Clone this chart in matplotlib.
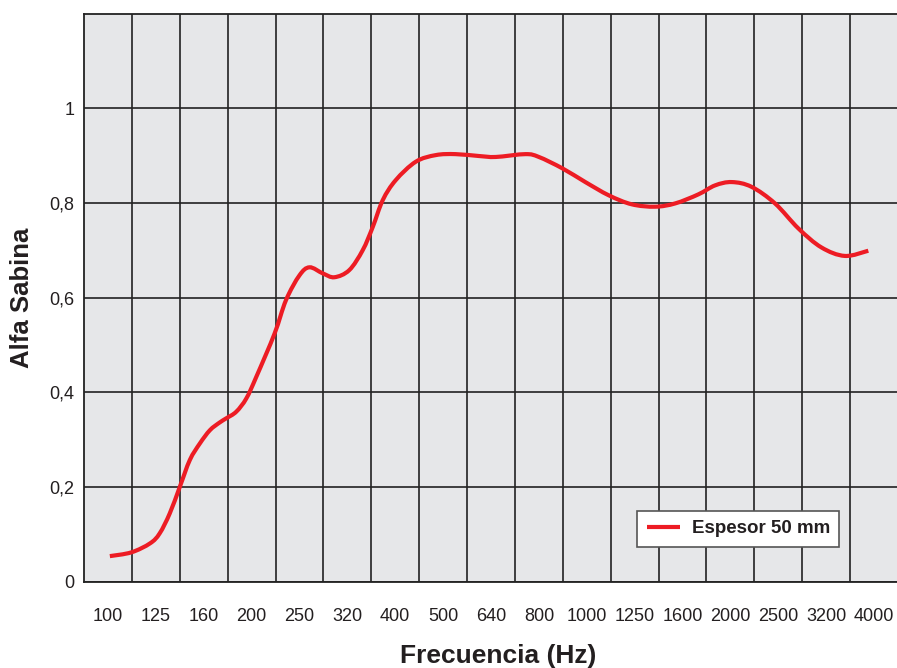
import matplotlib
matplotlib.use('Agg')
import matplotlib.pyplot as plt
import numpy as np
from matplotlib import font_manager
from matplotlib.path import Path
from matplotlib.patches import PathPatch
from matplotlib.lines import Line2D

# frequency bands (categorical axis)
freqs = ['100', '125', '160', '200', '250', '320', '400', '500', '640', '800',
         '1000', '1250', '1600', '2000', '2500', '3200', '4000']

# curve: position along the band axis (0 = 100 Hz)
pos = [0.04, 0.49, 0.88, 1.08, 1.29, 1.50, 1.71, 1.92, 2.13, 2.33, 2.47, 2.68,
       2.89, 3.10, 3.48, 3.72, 4.00, 4.21, 4.49, 4.73, 5.04, 5.32, 5.53, 5.74,
       6.01, 6.43, 6.85, 7.26, 7.75, 8.10, 8.72, 9.00, 9.49, 9.97, 10.46, 10.94,
       11.43, 11.85, 12.33, 12.68, 13.03, 13.44, 13.93, 14.42, 14.90, 15.39, 15.88]
alpha = [0.054, 0.062, 0.081, 0.102, 0.144, 0.200, 0.257, 0.292, 0.320, 0.336,
         0.345, 0.359, 0.387, 0.433, 0.524, 0.595, 0.647, 0.664, 0.651, 0.643,
         0.658, 0.700, 0.749, 0.806, 0.848, 0.887, 0.901, 0.903, 0.899, 0.897,
         0.903, 0.897, 0.873, 0.844, 0.816, 0.797, 0.792, 0.799, 0.818, 0.837,
         0.844, 0.834, 0.799, 0.746, 0.706, 0.688, 0.699]

yticks = [0, 0.2, 0.4, 0.6, 0.8, 1.0]
ylabels = ['0', '0,2', '0,4', '0,6', '0,8', '1']

RED = '#ed1c24'
GRID = '#222222'
TXT = '#231f20'

installed = {f.name for f in font_manager.fontManager.ttflist}
font = 'Liberation Sans Narrow' if 'Liberation Sans Narrow' in installed else 'Liberation Sans'
plt.rcParams['font.family'] = [font, 'DejaVu Sans']


def smooth_path(xs, ys):
    # smooth curve through the points (Catmull-Rom as cubic Bezier segments)
    p = np.column_stack([xs, ys])
    ext = np.vstack([p[0], p, p[-1]])
    verts = [p[0]]
    codes = [Path.MOVETO]
    for i in range(len(p) - 1):
        p0, p1, p2, p3 = ext[i], ext[i + 1], ext[i + 2], ext[i + 3]
        verts += [p1 + (p2 - p0) / 6, p2 - (p3 - p1) / 6, p2]
        codes += [Path.CURVE4] * 3
    return Path(verts, codes)


W, H = 897, 668
fig = plt.figure(figsize=(W / 100, H / 100), dpi=100)
ax = fig.add_axes([84 / W, 1 - 581.7 / H, (898 - 84) / W, (581.7 - 13.5) / H])
ax.set_facecolor('#e6e7e9')

curve = PathPatch(smooth_path(pos, alpha), facecolor='none', edgecolor=RED,
                  lw=3.0, capstyle='butt', zorder=3)
ax.add_patch(curve)

ax.set_xlim(-0.5, 16.5)
ax.set_ylim(0, 1.2)
ax.set_xticks(range(len(freqs)))
ax.set_xticklabels(freqs)
ax.set_xticks([i + 0.5 for i in range(len(freqs) - 1)], minor=True)
ax.set_yticks(yticks)
ax.set_yticklabels(ylabels)
ax.tick_params(which='both', length=0)
ax.tick_params(axis='x', pad=19, labelsize=13, colors=TXT)
ax.tick_params(axis='y', pad=7, labelsize=13, colors=TXT)
ax.grid(axis='y', which='major', color=GRID, lw=1.2)
ax.grid(axis='x', which='minor', color=GRID, lw=1.2)
ax.set_axisbelow(True)
for s in ['left', 'top', 'bottom']:
    ax.spines[s].set_color(GRID)
    ax.spines[s].set_linewidth(1.3)
ax.spines['right'].set_visible(False)

fig.text(22 / W, 1 - 298 / H, 'Alfa Sabina', rotation=90, ha='center', va='center',
         fontsize=18.5, fontweight='bold', color=TXT)
fig.text(498 / W, 1 - 656 / H, 'Frecuencia (Hz)', ha='center', va='center',
         fontsize=19, fontweight='bold', color=TXT)

handle = Line2D([], [], color=RED, lw=3.0, solid_capstyle='butt')
leg = ax.legend([handle], ['Espesor 50 mm'], loc='upper left',
                bbox_to_anchor=(637.3 / W, 1 - 510.7 / H),
                bbox_transform=fig.transFigure, borderaxespad=0, fancybox=False,
                framealpha=1, edgecolor='#555555', handlelength=1.8,
                handletextpad=0.6, borderpad=0.5,
                prop={'weight': 'bold', 'size': 13.5})
leg.get_frame().set_linewidth(1.2)
for t in leg.get_texts():
    t.set_color(TXT)

plt.savefig('out.png', dpi=100)
